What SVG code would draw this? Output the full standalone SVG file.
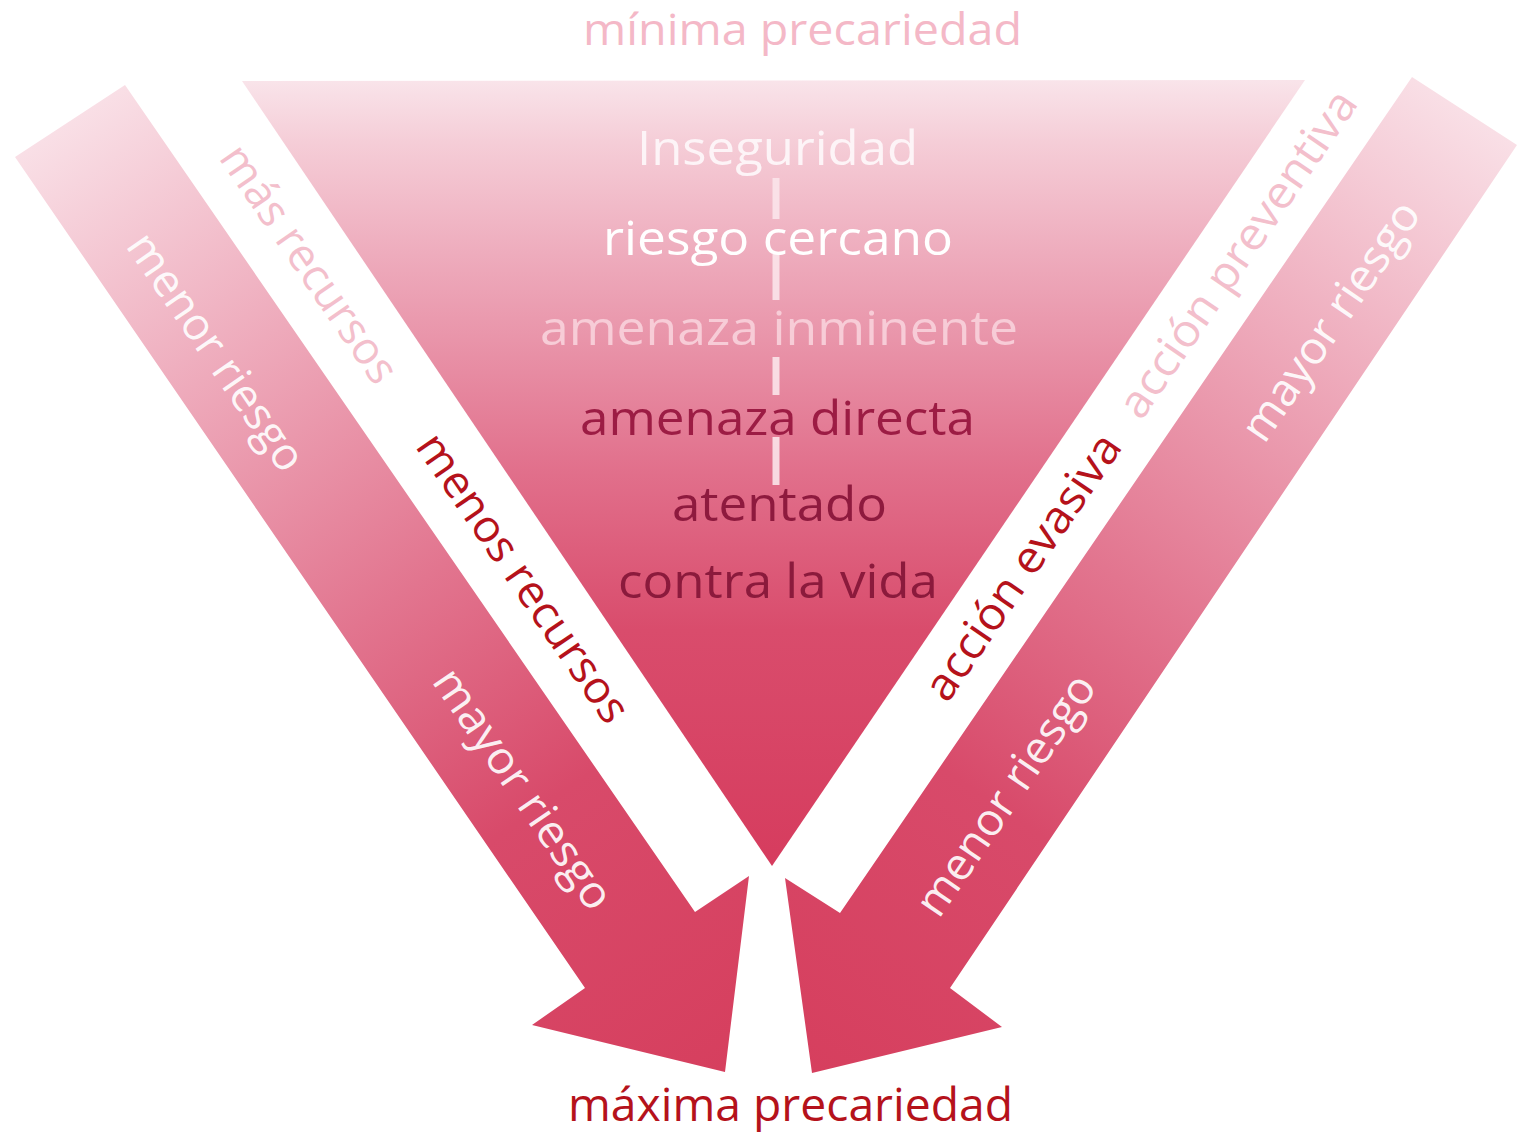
<svg xmlns="http://www.w3.org/2000/svg" width="1518" height="1135" viewBox="0 0 1518 1135">
<defs>
<linearGradient id="gTri" gradientUnits="userSpaceOnUse" x1="0" y1="80" x2="0" y2="866">
<stop offset="0" stop-color="#f9e4ea"/>
<stop offset="0.08" stop-color="#f5cdd7"/>
<stop offset="0.22" stop-color="#eeacbd"/>
<stop offset="0.35" stop-color="#e890a6"/>
<stop offset="0.5" stop-color="#e16f8b"/>
<stop offset="0.7" stop-color="#d94c6c"/>
<stop offset="1" stop-color="#d63c5e"/>
</linearGradient>
<linearGradient id="gLeft" gradientUnits="userSpaceOnUse" x1="70" y1="121" x2="725" y2="1072">
<stop offset="0" stop-color="#f9dfe6"/>
<stop offset="0.25" stop-color="#eeaabb"/>
<stop offset="0.5" stop-color="#e2758f"/>
<stop offset="0.72" stop-color="#d84a6a"/>
<stop offset="1" stop-color="#d63f5e"/>
</linearGradient>
<linearGradient id="gRight" gradientUnits="userSpaceOnUse" x1="1465" y1="111" x2="812" y2="1073">
<stop offset="0" stop-color="#f9dfe6"/>
<stop offset="0.25" stop-color="#eeaabb"/>
<stop offset="0.5" stop-color="#e2758f"/>
<stop offset="0.72" stop-color="#d84a6a"/>
<stop offset="1" stop-color="#d63f5e"/>
</linearGradient>
</defs>
<style>
text { font-family: "Open Sans", "Liberation Sans", sans-serif; text-anchor: middle; }
.big { font-size: 47px; }
.mid { font-size: 45px; }
.white { fill: #ffffff; fill-opacity: 0.92; }
.pale { fill: #f3bfcc; }
.red { fill: #b5121b; }
.dash { stroke: #fbe4ea; stroke-width: 7; stroke-opacity: 0.9; fill: none; }
</style>
<rect width="1518" height="1135" fill="#ffffff"/>

<g id="triangle">
<polygon points="242,81 1305,80 772,866" fill="url(#gTri)"/>
</g>

<g id="arrow-left">
<polygon points="15,157 125,85 695,912 749,876 725,1072 532,1025 585,988" fill="url(#gLeft)"/>
<text class="mid white" transform="translate(216,352) rotate(55.6)" y="15" textLength="278" lengthAdjust="spacingAndGlyphs">menor riesgo</text>
<text class="mid white" transform="translate(523,789) rotate(55.6)" y="15" textLength="282" lengthAdjust="spacingAndGlyphs">mayor riesgo</text>
</g>

<g id="arrow-right">
<polygon points="1412,77 1517,145 950,988 1002,1027 812,1073 785,878 840,913" fill="url(#gRight)"/>
<text class="mid white" transform="translate(1331,321) rotate(-55.6)" y="15" textLength="280" lengthAdjust="spacingAndGlyphs">mayor riesgo</text>
<text class="mid white" transform="translate(1006,795) rotate(-55.6)" y="15" textLength="282" lengthAdjust="spacingAndGlyphs">menor riesgo</text>
</g>

<g id="band-left">
<text class="mid pale" transform="translate(309,264) rotate(55.6)" y="15" textLength="278" lengthAdjust="spacingAndGlyphs">más recursos</text>
<text class="mid red" transform="translate(523,578) rotate(55.6)" y="15" textLength="340" lengthAdjust="spacingAndGlyphs">menos recursos</text>
</g>

<g id="band-right">
<text class="mid pale" transform="translate(1238,254) rotate(-55.6)" y="15" textLength="386" lengthAdjust="spacingAndGlyphs">acción preventiva</text>
<text class="mid red" transform="translate(1023,567) rotate(-55.6)" y="15" textLength="312" lengthAdjust="spacingAndGlyphs">acción evasiva</text>
</g>

<g id="connectors">
<line class="dash" x1="776" y1="178" x2="776" y2="219"/>
<line class="dash" x1="776" y1="254" x2="776" y2="300"/>
<line class="dash" x1="776" y1="357" x2="776" y2="395"/>
<line class="dash" x1="776" y1="437" x2="776" y2="485"/>
</g>

<g id="levels">
<text class="big" x="777.5" y="165" fill="#fdf4f7" textLength="281" lengthAdjust="spacingAndGlyphs">Inseguridad</text>
<text class="big" x="778" y="255" fill="#ffffff" textLength="350" lengthAdjust="spacingAndGlyphs">riesgo cercano</text>
<text class="big" x="779" y="345" fill="#f7ccd7" textLength="478" lengthAdjust="spacingAndGlyphs">amenaza inminente</text>
<text class="big" x="777.5" y="435" fill="#9c1c44" textLength="395" lengthAdjust="spacingAndGlyphs">amenaza directa</text>
<text class="big" x="779.5" y="521" fill="#8e1a3e" textLength="215" lengthAdjust="spacingAndGlyphs">atentado</text>
<text class="big" x="778" y="598" fill="#8b1a3c" textLength="320" lengthAdjust="spacingAndGlyphs">contra la vida</text>
</g>

<g id="title-top">
<text x="802.5" y="45" font-size="44" fill="#f4b8c7" textLength="439" lengthAdjust="spacingAndGlyphs">mínima precariedad</text>
</g>

<g id="title-bottom">
<text x="790.5" y="1121" font-size="45" fill="#b5121b" textLength="445" lengthAdjust="spacingAndGlyphs">máxima precariedad</text>
</g>
</svg>
